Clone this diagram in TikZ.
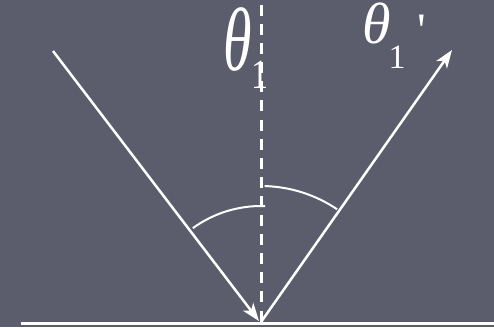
\documentclass[tikz,border=0pt]{standalone}
\usepackage{fontspec}
\usepackage{graphicx}
\newfontfamily\tnr{Liberation Serif}
\usetikzlibrary{arrows.meta}
\definecolor{bgc}{RGB}{91,92,108}
\tikzset{
  ray/.style={white, line width=2.5bp},
  tip/.style={-{Stealth[length=18bp,width=13bp,inset=5bp]}},
  normal/.style={white, line width=3bp, dash pattern=on 11bp off 8.1bp},
  anglearc/.style={white, line width=2bp},
  surface/.style={white, line width=3.5bp},
  lbl/.style={inner sep=0pt, text=white, anchor=base west, font=\tnr}
}
\begin{document}
\begin{tikzpicture}[x=1bp,y=1bp]
\fill[bgc] (0,0) rectangle (494,-327);
\useasboundingbox (0,0) rectangle (494,-327);
\coordinate (A) at (53,-51);
\coordinate (O) at (261,-322);
\coordinate (Oin) at (259,-321);
\coordinate (B) at (452,-50);
\coordinate (N) at (261,-4.9);
\coordinate (S1) at (21,-323.5);
\coordinate (S2) at (494,-323.5);
\draw[surface] (S1) -- (S2);
\draw[normal] (N) -- (O);
\draw[ray,tip] (A) -- (Oin);
\draw[ray,tip] (O) -- (B);
\draw[anglearc] ([shift={(126:116)}]O) arc[start angle=126, end angle=88, radius=116];
\draw[anglearc] ([shift={(88.5:136)}]O) arc[start angle=88.5, end angle=56, radius=136];
\node[lbl] (t1) at (223,-70) {\fontsize{58bp}{58bp}\selectfont\smash{\scalebox{1}[1.55]{\itshape θ}}\kern 0bp\raisebox{-18bp}{\fontsize{34bp}{34bp}\selectfont\smash{\scalebox{1}[1.22]{1}}}};
\node[lbl] (t2) at (362,-43) {\smash{\scalebox{1.32}{\fontsize{44bp}{44bp}\selectfont\itshape θ}}\kern -2bp\raisebox{-25bp}{\fontsize{34bp}{34bp}\selectfont\smash{1}}\kern 12bp\raisebox{-3bp}{\fontsize{48bp}{48bp}\selectfont\smash{'}}};
\end{tikzpicture}
\end{document}
